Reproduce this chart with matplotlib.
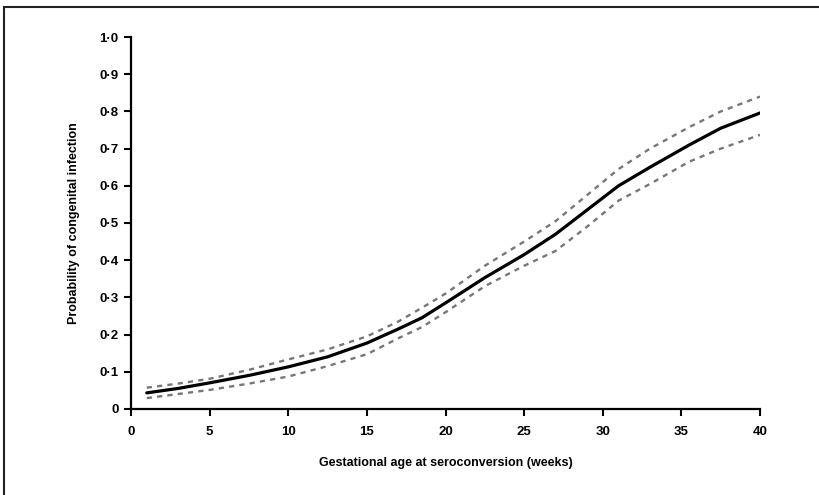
import matplotlib.pyplot as plt
from matplotlib.lines import Line2D

# gestational age (weeks) and probability
weeks = [1, 3, 5, 7.5, 10, 12.5, 15, 17, 18.5, 20, 22.5, 25, 27, 29, 31, 33, 35.5, 37.5, 40]
prob = [0.043, 0.055, 0.07, 0.09, 0.113, 0.14, 0.177, 0.215, 0.245, 0.285, 0.353, 0.415,
        0.47, 0.535, 0.60, 0.65, 0.71, 0.755, 0.796]
upper = [0.057, 0.068, 0.081, 0.105, 0.133, 0.16, 0.195, 0.235, 0.272, 0.31, 0.385, 0.45,
         0.505, 0.575, 0.645, 0.70, 0.758, 0.80, 0.84]
lower = [0.029, 0.04, 0.051, 0.068, 0.087, 0.115, 0.147, 0.19, 0.22, 0.26, 0.33, 0.385,
         0.425, 0.49, 0.56, 0.605, 0.665, 0.70, 0.737]

xticks = [0, 5, 10, 15, 20, 25, 30, 35, 40]
yticks = [0, 0.1, 0.2, 0.3, 0.4, 0.5, 0.6, 0.7, 0.8, 0.9, 1.0]
ytick_labels = ['0', '0·1', '0·2', '0·3', '0·4', '0·5', '0·6', '0·7', '0·8', '0·9', '1·0']

plt.rcParams['font.family'] = ['Liberation Sans', 'DejaVu Sans']

fig = plt.figure(figsize=(8.19, 4.95), dpi=100)
ax = fig.add_axes([0.16, 0.174, 0.768, 0.751])

ax.plot(weeks, upper, color='#777777', lw=1.7, dashes=(2.2, 2.2))
ax.plot(weeks, lower, color='#777777', lw=1.7, dashes=(2.2, 2.2))
ax.plot(weeks, prob, color='black', lw=2.3, solid_capstyle='round')

ax.set_xlim(0, 40)
ax.set_ylim(0, 1.0)
ax.set_xticks(xticks)
ax.set_yticks(yticks)
ax.set_yticklabels(ytick_labels)
for s in ['top', 'right']:
    ax.spines[s].set_visible(False)
for s in ['left', 'bottom']:
    ax.spines[s].set_linewidth(1.6)
ax.tick_params(direction='out', length=5, width=1.5, labelsize=9.5)
ax.tick_params(axis='x', pad=7)
ax.tick_params(axis='y', pad=4)
for lab in ax.get_xticklabels() + ax.get_yticklabels():
    lab.set_fontweight('bold')

ax.set_xlabel('Gestational age at seroconversion (weeks)', fontsize=9, fontweight='bold', labelpad=14)
ax.set_ylabel('Probability of congenital infection', fontsize=9, fontweight='bold', labelpad=14)

# outer frame (only left and top edges visible in the crop)
fig.add_artist(Line2D([4 / 819, 4 / 819], [0, 1 - 7 / 495], transform=fig.transFigure, color='#222222', lw=1.5))
fig.add_artist(Line2D([4 / 819, 1], [1 - 7 / 495, 1 - 7 / 495], transform=fig.transFigure, color='#222222', lw=1.5))

fig.savefig('out.png', dpi=100)
